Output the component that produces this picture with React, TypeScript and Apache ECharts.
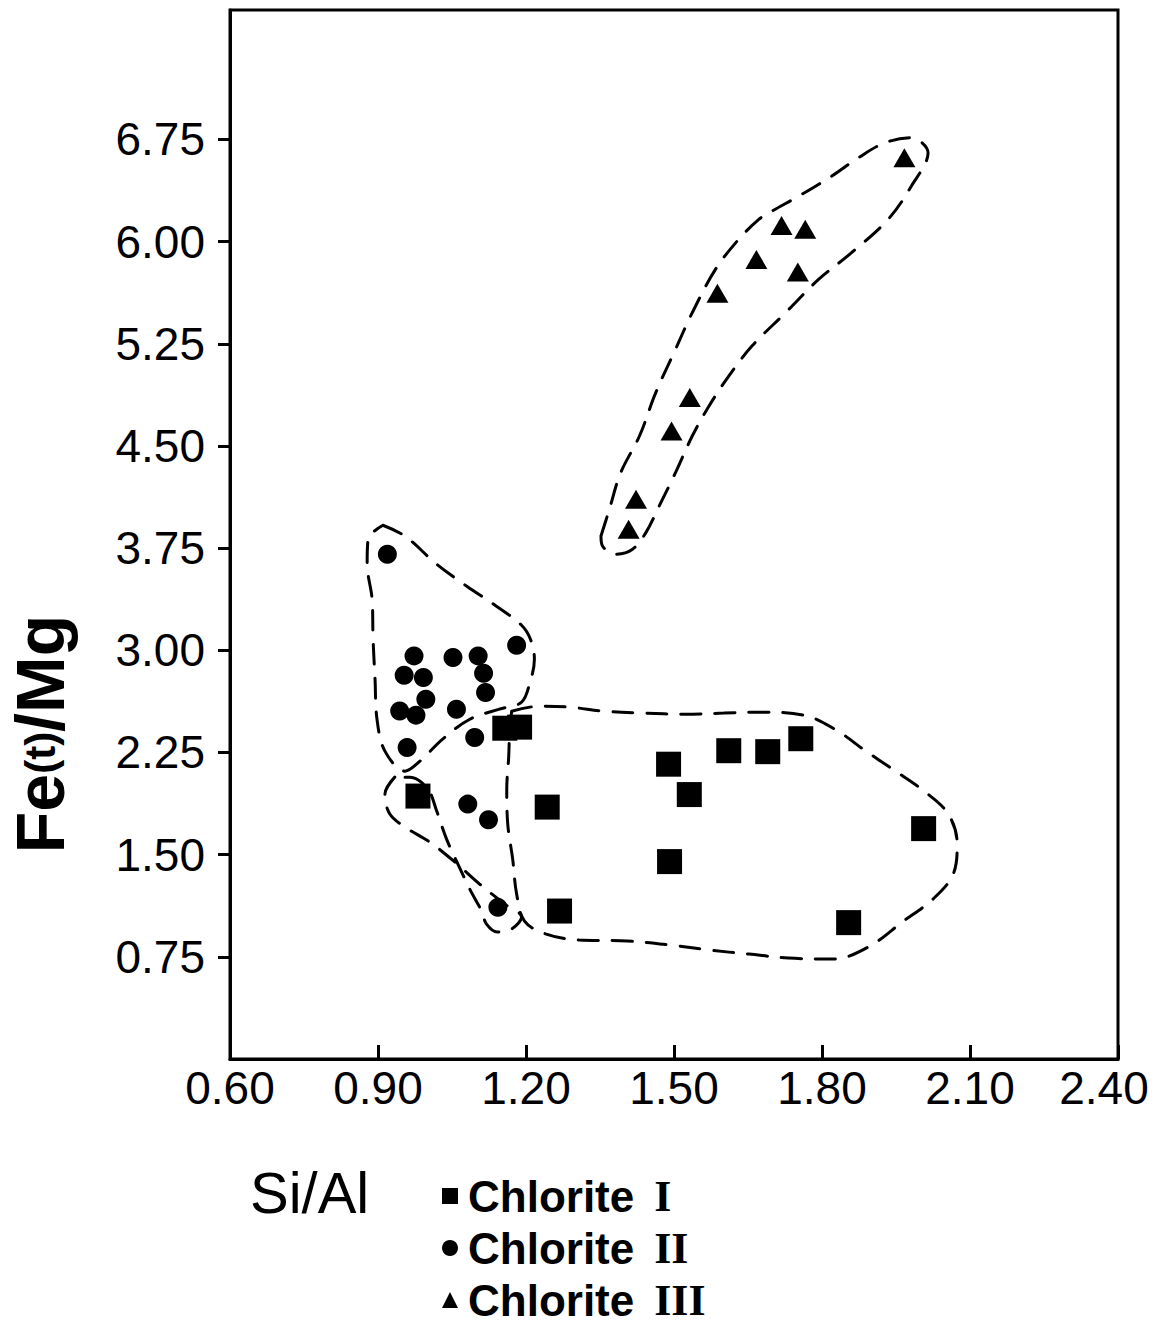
import React, { useEffect, useRef } from "react";
import * as echarts from "echarts";

// Si/Al, Fe(t)/Mg
const chloriteI: [number, number][] = [
  [0.981, 1.93], [1.157, 2.428], [1.187, 2.436], [1.243, 1.849], [1.268, 1.086],
  [1.489, 2.164], [1.531, 1.941], [1.491, 1.449], [1.611, 2.263], [1.69, 2.256],
  [1.757, 2.351], [2.006, 1.691], [1.854, 1.001],
];
const chloriteII: [number, number][] = [
  [0.919, 3.705], [1.181, 3.037], [0.973, 2.959], [0.953, 2.817], [0.992, 2.8],
  [1.052, 2.947], [1.103, 2.959], [1.114, 2.832], [1.118, 2.69], [0.944, 2.555],
  [0.997, 2.641], [0.977, 2.524], [1.059, 2.568], [1.096, 2.36], [0.959, 2.287],
  [1.082, 1.871], [1.124, 1.756], [1.143, 1.113],
];
const chloriteIII: [number, number][] = [
  [1.967, 6.616], [1.718, 6.119], [1.766, 6.09], [1.667, 5.869], [1.751, 5.776],
  [1.588, 5.62], [1.532, 4.855], [1.495, 4.61], [1.423, 4.109], [1.408, 3.888],
];

// dashed field envelopes (closed outlines, in data units)
const envelopeI: [number, number][] = [
  [1.171, 2.553], [1.227, 2.59], [1.288, 2.583], [1.359, 2.553], [1.439, 2.539],
  [1.52, 2.531], [1.601, 2.539], [1.672, 2.546], [1.763, 2.524], [1.829, 2.414],
  [1.886, 2.267], [1.946, 2.12], [2.007, 1.966], [2.056, 1.798], [2.074, 1.577],
  [2.066, 1.357], [2.025, 1.174], [1.965, 1.012], [1.894, 0.822], [1.823, 0.734],
  [1.732, 0.741], [1.652, 0.77], [1.571, 0.8], [1.494, 0.836], [1.405, 0.866],
  [1.308, 0.873], [1.241, 0.917], [1.197, 1.012], [1.181, 1.211], [1.173, 1.467],
  [1.163, 1.724], [1.161, 1.981], [1.165, 2.223], [1.167, 2.421], [1.171, 2.553],
];
const envelopeIIa: [number, number][] = [
  [0.91, 3.918], [0.955, 3.837], [1.019, 3.632], [1.08, 3.47], [1.14, 3.324],
  [1.191, 3.184], [1.209, 3.081], [1.217, 2.935], [1.207, 2.751], [1.191, 2.619],
  [1.146, 2.568], [1.086, 2.494], [1.031, 2.348], [0.985, 2.186], [0.955, 2.113],
  [0.914, 2.26], [0.898, 2.494], [0.894, 2.788], [0.89, 3.081], [0.888, 3.375],
  [0.878, 3.632], [0.88, 3.815], [0.91, 3.918],
];
const envelopeIIb: [number, number][] = [
  [0.934, 2.069], [0.914, 1.944], [0.924, 1.798], [0.955, 1.702], [1.005, 1.592],
  [1.056, 1.445], [1.106, 1.284], [1.157, 1.137], [1.191, 1.042], [1.171, 0.954],
  [1.142, 0.932], [1.12, 0.99], [1.11, 1.086], [1.086, 1.247], [1.062, 1.431],
  [1.039, 1.614], [1.019, 1.82], [1.001, 1.981], [0.965, 2.069], [0.934, 2.069],
];
const envelopeIII: [number, number][] = [
  [1.352, 3.839], [1.369, 4.035], [1.392, 4.304], [1.43, 4.573], [1.463, 4.891],
  [1.5, 5.185], [1.537, 5.478], [1.584, 5.796], [1.631, 6.016], [1.672, 6.163],
  [1.699, 6.224], [1.753, 6.334], [1.82, 6.481], [1.874, 6.616], [1.928, 6.726],
  [1.981, 6.762], [2.015, 6.652], [1.981, 6.407], [1.934, 6.163], [1.86, 5.919],
  [1.793, 5.722], [1.726, 5.478], [1.658, 5.233], [1.611, 5.013], [1.571, 4.793],
  [1.537, 4.573], [1.503, 4.304], [1.47, 4.059], [1.443, 3.864], [1.416, 3.742],
  [1.382, 3.705], [1.355, 3.766], [1.352, 3.839],
];

const yTickValues = [0.75, 1.5, 2.25, 3.0, 3.75, 4.5, 5.25, 6.0, 6.75];
const seriesNames = ["Chlorite I", "Chlorite II", "Chlorite III"];

const NUM_FONT = "Liberation Sans";

export default function App() {
  const ref = useRef<HTMLDivElement>(null);
  useEffect(() => {
    if (!ref.current) return;
    const chart = echarts.init(ref.current, undefined, { renderer: "svg" });
    const envStyle = {
      type: "line" as const,
      smooth: 0.35,
      showSymbol: false,
      symbol: "none",
      silent: true,
      z: 1,
      lineStyle: { color: "#000", width: 3, type: [20, 14] as any, cap: "round" as const },
    };
    const markStyle = { color: "#000", opacity: 1 };
    chart.setOption({
      animation: false,
      backgroundColor: "#fff",
      grid: {
        left: 230,
        right: 44,
        top: 10,
        bottom: 267,
        show: true,
        borderColor: "#000",
        borderWidth: 3,
        backgroundColor: "transparent",
      },
      xAxis: {
        type: "value",
        min: 0.6,
        max: 2.4,
        interval: 0.3,
        axisLine: { show: true, lineStyle: { color: "#000", width: 3 } },
        axisTick: { show: true, inside: true, length: 14, lineStyle: { color: "#000", width: 3 } },
        splitLine: { show: false },
        axisLabel: {
          color: "#000",
          fontSize: 46,
          fontFamily: NUM_FONT,
          margin: 6,
          formatter: (v: number) =>
            Math.abs(v - 2.4) < 1e-6 ? "{r|" + v.toFixed(2) + "}" : v.toFixed(2),
          rich: { r: { fontSize: 46, fontFamily: NUM_FONT, color: "#000", padding: [0, 28, 0, 0] } },
        },
      },
      yAxis: {
        type: "value",
        min: 0,
        max: 7.7,
        axisLine: { show: true, lineStyle: { color: "#000", width: 3 } },
        axisTick: {
          show: true,
          inside: false,
          length: 12,
          customValues: yTickValues,
          lineStyle: { color: "#000", width: 3 },
        },
        splitLine: { show: false },
        axisLabel: {
          color: "#000",
          fontSize: 46,
          fontFamily: NUM_FONT,
          margin: 25,
          customValues: yTickValues,
          formatter: (v: number) => v.toFixed(2),
        },
      },
      legend: {
        data: seriesNames,
        orient: "vertical",
        left: 442,
        top: 1172,
        padding: 0,
        itemGap: 4,
        itemWidth: 16,
        itemHeight: 16,
        selectedMode: false,
        itemStyle: { opacity: 1 },
        formatter: (name: string) => {
          const i = name.indexOf(" ");
          return "{a|" + name.slice(0, i) + "}{b|" + name.slice(i + 1) + "}";
        },
        textStyle: {
          color: "#000",
          lineHeight: 48,
          rich: {
            a: {
              fontSize: 44,
              fontFamily: NUM_FONT,
              fontWeight: "bold",
              color: "#000",
              lineHeight: 48,
              padding: [0, 0, 0, 5],
            },
            b: {
              fontSize: 44,
              fontFamily: "Liberation Serif",
              fontWeight: "bold",
              color: "#000",
              lineHeight: 48,
              padding: [0, 0, 0, 20],
            },
          },
        },
      },
      graphic: [
        {
          type: "text",
          x: 40,
          y: 734,
          rotation: Math.PI / 2,
          style: {
            text: "{a|Fe}{b|(t)}{a|/Mg}",
            align: "center",
            verticalAlign: "middle",
            fill: "#000",
            rich: {
              a: { fontSize: 68, fontFamily: NUM_FONT, fontWeight: "bold", fill: "#000" },
              b: { fontSize: 42, fontFamily: NUM_FONT, fontWeight: "bold", fill: "#000", verticalAlign: "middle" },
            },
          },
        },
        {
          type: "text",
          x: 250,
          y: 1192,
          style: {
            text: "Si/Al",
            align: "left",
            verticalAlign: "middle",
            fontSize: 58,
            fontFamily: NUM_FONT,
            fill: "#000",
          },
        },
      ],
      series: [
        { ...envStyle, name: "envI", data: envelopeI },
        { ...envStyle, name: "envIIa", data: envelopeIIa },
        { ...envStyle, name: "envIIb", data: envelopeIIb },
        { ...envStyle, name: "envIII", data: envelopeIII },
        {
          type: "scatter",
          name: seriesNames[0],
          data: chloriteI,
          symbol: "rect",
          symbolSize: 25,
          z: 3,
          itemStyle: markStyle,
        },
        {
          type: "scatter",
          name: seriesNames[1],
          data: chloriteII,
          symbol: "circle",
          symbolSize: 19,
          z: 3,
          itemStyle: markStyle,
        },
        {
          type: "scatter",
          name: seriesNames[2],
          data: chloriteIII,
          symbol: "triangle",
          symbolSize: [22, 19],
          z: 3,
          itemStyle: markStyle,
        },
      ],
    });
    return () => chart.dispose();
  }, []);
  return (
    <div
      ref={ref}
      style={{ position: "absolute", left: 0, top: 0, width: 1162, height: 1326, background: "#fff" }}
    />
  );
}
